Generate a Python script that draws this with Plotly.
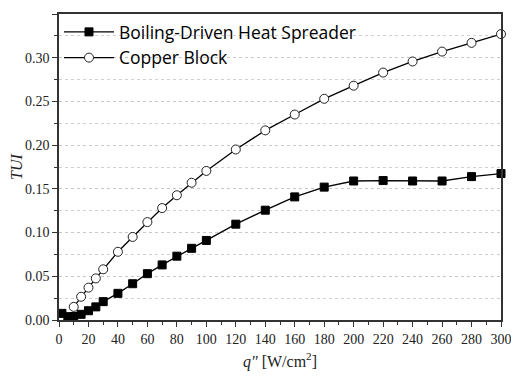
import plotly.graph_objects as go

q_boiling = [2, 6, 10, 15, 20, 25, 30, 40, 50, 60, 70, 80, 90, 100, 120, 140, 160, 180, 200, 220, 240, 260, 280, 300]
tui_boiling = [0.0076, 0.0038, 0.004, 0.0065, 0.0106, 0.015, 0.021, 0.0305, 0.0415, 0.053, 0.063, 0.073, 0.082, 0.091,
               0.1096, 0.1256, 0.1408, 0.152, 0.159, 0.1595, 0.159, 0.159, 0.164, 0.1675]
q_copper = [10, 15, 20, 25, 30, 40, 50, 60, 70, 80, 90, 100, 120, 140, 160, 180, 200, 220, 240, 260, 280, 300]
tui_copper = [0.015, 0.0266, 0.037, 0.0476, 0.058, 0.078, 0.095, 0.112, 0.128, 0.1427, 0.157, 0.1705, 0.195,
              0.2169, 0.235, 0.253, 0.268, 0.283, 0.2957, 0.307, 0.317, 0.327]

fig = go.Figure()
fig.add_trace(go.Scatter(
    x=q_boiling, y=tui_boiling, mode="lines+markers", name="Boiling-Driven Heat Spreader",
    line=dict(color="black", width=1.3),
    marker=dict(symbol="square", size=8, color="black", line=dict(color="black", width=1)),
    cliponaxis=False))
fig.add_trace(go.Scatter(
    x=q_copper, y=tui_copper, mode="lines+markers", name="Copper Block",
    line=dict(color="black", width=1.3),
    marker=dict(symbol="circle", size=9, color="white", line=dict(color="#222", width=1)),
    cliponaxis=False))

serif = "Liberation Serif"
# page body has an 8px default margin, so the figure is sized/offset to land the plot at the reference position
fig.update_layout(
    width=511, height=368,
    margin=dict(l=51, r=18, t=6, b=56),
    paper_bgcolor="white", plot_bgcolor="white",
    showlegend=True,
    legend=dict(x=0.0, y=1.0, xanchor="left", yanchor="top",
                font=dict(family="Open Sans", size=17.5, color="black"),
                bgcolor="rgba(0,0,0,0)", itemwidth=50, tracegroupgap=0),
    xaxis=dict(range=[0, 300], tickmode="linear", tick0=0, dtick=20, automargin=False,
               ticks="outside", ticklen=5, tickwidth=1, tickcolor="#333",
               minor=dict(ticks="outside", ticklen=3, dtick=10, tickcolor="#333", showgrid=False),
               showline=True, linecolor="#333", linewidth=1.5, mirror=True,
               showgrid=False, zeroline=False,
               tickfont=dict(family=serif, size=14, color="#222"),
               title=dict(text="<i>q″</i> [W/cm<sup>2</sup>]", font=dict(family=serif, size=16, color="#222"),
                          standoff=10)),
    yaxis=dict(range=[0, 0.35], tickmode="linear", tick0=0, dtick=0.05, tickformat=".2f", automargin=False,
               ticks="outside", ticklen=5, tickwidth=1, tickcolor="#333",
               minor=dict(ticks="outside", ticklen=3, dtick=0.025, tickcolor="#333",
                          showgrid=True, gridcolor="#d0d0d0", griddash="dot", gridwidth=1),
               showline=True, linecolor="#333", linewidth=1.5, mirror=True,
               showgrid=True, gridcolor="#c8c8c8", griddash="dot", gridwidth=1, zeroline=False,
               tickfont=dict(family=serif, size=14, color="#222"),
               title=dict(text="<i>TUI</i>", font=dict(family=serif, size=16, color="#222"), standoff=4)),
)

fig.write_html("out.html")
